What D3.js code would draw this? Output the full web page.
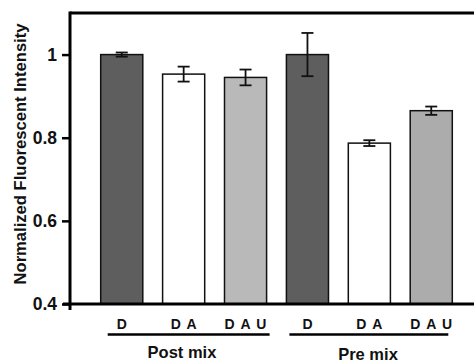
<!DOCTYPE html>
<html>
<head>
<meta charset="utf-8">
<script src="https://cdn.jsdelivr.net/npm/d3@7"></script>
<style>
  body { margin: 0; background: #fff; }
  svg { display: block; font-family: Arial, "Liberation Sans", sans-serif; font-weight: bold; }
</style>
</head>
<body>
<svg id="chart" width="474" height="362"></svg>
<script>
// data
const categories = ['D', 'D A', 'D A U', 'D', 'D A', 'D A U'];
const groups = ['Post mix', 'Post mix', 'Post mix', 'Pre mix', 'Pre mix', 'Pre mix'];
const values = [1.0, 0.953, 0.945, 1.0, 0.787, 0.865];
const errors = [0.005, 0.018, 0.019, 0.052, 0.007, 0.010];
const fills = ['#5e5e5e', '#ffffff', '#b9b9b9', '#5e5e5e', '#ffffff', '#acacac'];
const yTicks = [0.4, 0.6, 0.8, 1];
const groupNames = ['Post mix', 'Pre mix'];

const svg = d3.select('#chart');
const W = 474;
const FONT = 'Arial, "Liberation Sans", sans-serif';

const y = d3.scaleLinear().domain([0.4, 1.1]).range([304, 13]);
const x = d3.scaleBand()
  .domain(d3.range(categories.length))
  .range([90.8, 462.2])
  .paddingInner(0.32)
  .paddingOuter(0.16);

// bars
svg.append('g')
  .selectAll('rect')
  .data(values)
  .join('rect')
  .attr('x', (d, i) => x(i))
  .attr('y', d => y(d))
  .attr('width', x.bandwidth())
  .attr('height', d => y(0.4) - y(d))
  .attr('fill', (d, i) => fills[i])
  .attr('stroke', '#111')
  .attr('stroke-width', 1.5);

// error bars
const err = svg.append('g')
  .attr('stroke', '#111')
  .attr('stroke-width', 1.8)
  .selectAll('g')
  .data(values)
  .join('g')
  .attr('transform', (d, i) => `translate(${x(i) + x.bandwidth() / 2},0)`);
err.append('line')
  .attr('y1', (d, i) => y(d + errors[i]))
  .attr('y2', (d, i) => y(d - errors[i]));
err.append('line')
  .attr('x1', -6).attr('x2', 6)
  .attr('y1', (d, i) => y(d + errors[i]))
  .attr('y2', (d, i) => y(d + errors[i]));
err.append('line')
  .attr('x1', -6).attr('x2', 6)
  .attr('y1', (d, i) => y(d - errors[i]))
  .attr('y2', (d, i) => y(d - errors[i]));

// frame: top line, bottom axis
svg.append('line')
  .attr('x1', 70).attr('x2', W).attr('y1', y(1.1)).attr('y2', y(1.1))
  .attr('stroke', '#000').attr('stroke-width', 3);
svg.append('line')
  .attr('x1', 63).attr('x2', W).attr('y1', y(0.4)).attr('y2', y(0.4))
  .attr('stroke', '#000').attr('stroke-width', 3);

const yAxis = svg.append('g')
  .attr('transform', 'translate(70,0)')
  .call(d3.axisLeft(y).tickValues(yTicks).tickSize(8).tickPadding(5)
    .tickFormat(d => d === 1 ? '1' : d3.format('.1f')(d)));
yAxis.select('.domain').remove();
yAxis.selectAll('.tick line').attr('stroke', '#000').attr('stroke-width', 2.5);
yAxis.selectAll('.tick text')
  .attr('font-size', 17.5).attr('font-weight', 'bold').attr('fill', '#111')
  .attr('font-family', FONT);
svg.append('line')
  .attr('x1', 70).attr('x2', 70).attr('y1', y(1.1) - 1.5).attr('y2', 310)
  .attr('stroke', '#000').attr('stroke-width', 3);

// y title
svg.append('text')
  .attr('transform', 'translate(26,154) rotate(-90)')
  .attr('text-anchor', 'middle')
  .attr('font-size', 16.6)
  .attr('fill', '#111')
  .text('Normalized Fluorescent Intensity');

// category labels
svg.append('g')
  .selectAll('text')
  .data(categories)
  .join('text')
  .attr('x', (d, i) => x(i) + x.bandwidth() / 2)
  .attr('y', 329)
  .attr('dx', 0.6)
  .attr('text-anchor', 'middle')
  .attr('font-size', 14)
  .attr('letter-spacing', 1.2)
  .attr('fill', '#111')
  .text(d => d);

// group underlines and names
groupNames.forEach((g, k) => {
  const idx = d3.range(groups.length).filter(i => groups[i] === g);
  const x0 = x(idx[0]) + (k === 0 ? 7 : 3);
  const x1 = x(idx[idx.length - 1]) + x.bandwidth() + (k === 0 ? 3 : -4);
  svg.append('line')
    .attr('x1', x0).attr('x2', x1).attr('y1', 334.5).attr('y2', 334.5)
    .attr('stroke', '#000').attr('stroke-width', 2.7);
  svg.append('text')
    .attr('x', k === 0 ? 182 : 368)
    .attr('y', k === 0 ? 358 : 359.5)
    .attr('text-anchor', 'middle')
    .attr('font-size', 16.5)
    .attr('fill', '#111')
    .text(g);
});
</script>
</body>
</html>
